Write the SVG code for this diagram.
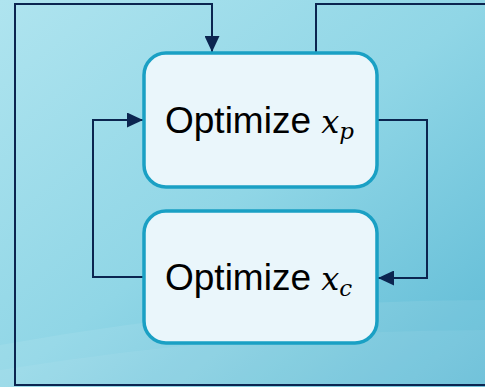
<svg xmlns="http://www.w3.org/2000/svg" width="485" height="387" viewBox="0 0 485 387">
<style>
.node rect{fill:#eaf6fb;stroke:#1aa0c4;stroke-width:3.5}
.lbl{font-family:"Liberation Sans",Arial,sans-serif;font-size:37px;fill:#000}
.math{font-family:"DejaVu Serif","Liberation Serif",serif;font-style:italic}
.conn path{fill:none;stroke:#0b2550;stroke-width:2}
</style>
<defs>
<linearGradient id="bg" x1="0" y1="0" x2="1" y2="1">
<stop offset="0" stop-color="#afe4ef"/>
<stop offset="0.5" stop-color="#90d6e6"/>
<stop offset="1" stop-color="#5dbad5"/>
</linearGradient>
<marker id="big" viewBox="0 0 16 15" refX="16" refY="7.5" markerWidth="16" markerHeight="15" markerUnits="userSpaceOnUse" orient="auto">
<path d="M0,0 L16,7.5 L0,15 z" fill="#0b2550"/>
</marker>
</defs>
<rect width="485" height="387" fill="url(#bg)"/>
<path d="M0,345 Q250,300 485,300 L485,387 L0,387 z" fill="#ffffff" opacity="0.08"/>
<path d="M0,370 Q250,330 485,330 L485,387 L0,387 z" fill="#ffffff" opacity="0.06"/>
<g class="conn">
<path d="M485,385 L15,385 L15,4 L212,4 L212,52" marker-end="url(#big)"/>
<path d="M316,52 L316,4 L485,4"/>
<path d="M143,277 L93,277 L93,120 L143,120" marker-end="url(#big)"/>
<path d="M378,120 L427,120 L427,278 L378,278" marker-end="url(#big)"/>
</g>
<g id="node-xp" class="node">
<rect x="144" y="53" width="233" height="134" rx="22"/>
<text class="lbl" x="165" y="133">Optimize <tspan class="math" font-size="32">x</tspan><tspan class="math" font-size="23" dy="6">p</tspan></text>
</g>
<g id="node-xc" class="node">
<rect x="144" y="211" width="233" height="132" rx="22"/>
<text class="lbl" x="165" y="290">Optimize <tspan class="math" font-size="32">x</tspan><tspan class="math" font-size="23" dy="6">c</tspan></text>
</g>
</svg>
